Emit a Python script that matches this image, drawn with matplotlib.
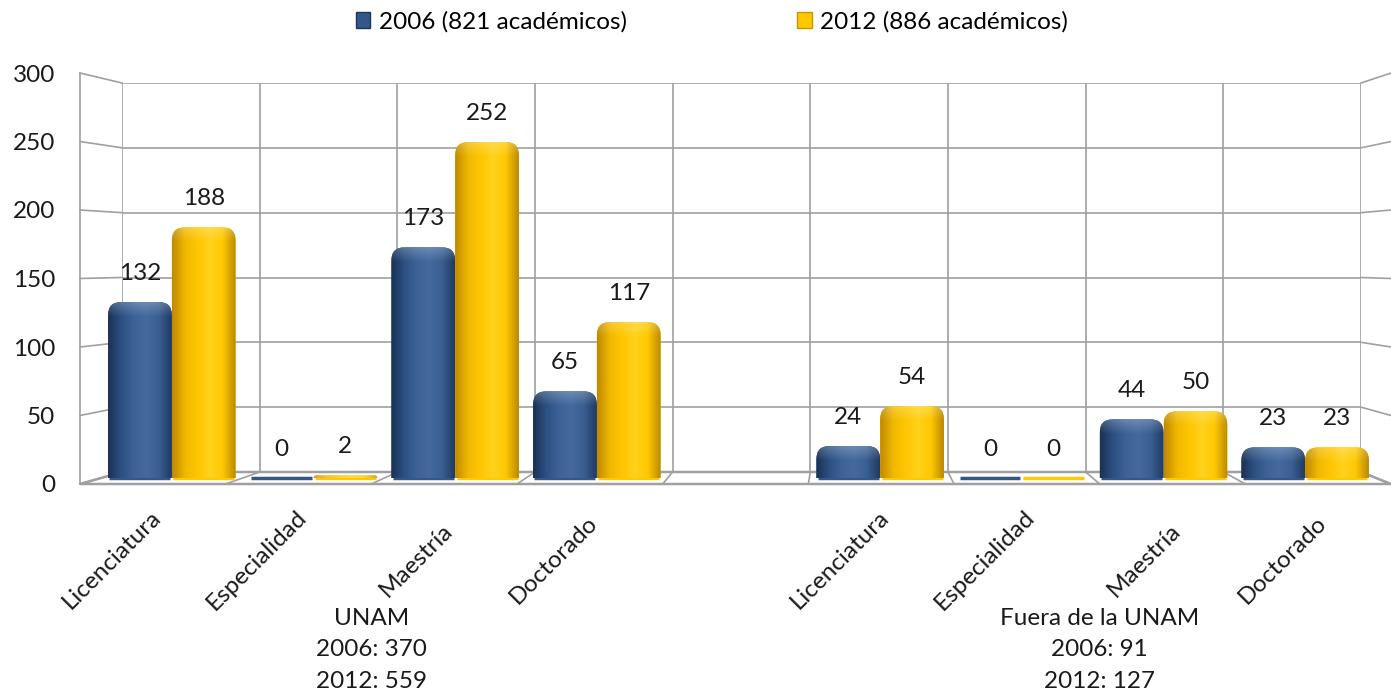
import matplotlib.pyplot as plt
import matplotlib.transforms as mtransforms
import numpy as np
from matplotlib.colors import LinearSegmentedColormap
from matplotlib.lines import Line2D
from matplotlib.patches import FancyBboxPatch, Patch, Polygon

categories = ["Licenciatura", "Especialidad", "Maestría", "Doctorado", "",
              "Licenciatura", "Especialidad", "Maestría", "Doctorado"]
values_2006 = [132, 0, 173, 65, np.nan, 24, 0, 44, 23]
values_2012 = [188, 2, 252, 117, np.nan, 54, 0, 50, 23]
series_labels = ["2006 (821 académicos)", "2012 (886 académicos)"]
group_labels = ["UNAM\n2006: 370\n2012: 559", "Fuera de la UNAM\n2006: 91\n2012: 127"]
group_centers = [1.5, 6.5]
y_ticks = [0, 50, 100, 150, 200, 250, 300]

FS = 17.5
plt.rcParams["font.family"] = ["Lato", "DejaVu Sans"]
plt.rcParams["font.size"] = FS

W, H = 1391, 697
fig = plt.figure(figsize=(W / 100, H / 100), dpi=100)


def box(x0, x1, ybot, ytop):
    # pixel rectangle -> figure fraction [left, bottom, width, height]
    return [x0 / W, 1 - ybot / H, (x1 - x0) / W, (ybot - ytop) / H]


# three planes of the fake 3D chart: back wall, bar plane, front edge
ax_back = fig.add_axes(box(122, 1361, 472, 83), zorder=0)
ax_front = fig.add_axes(box(80, 1391, 484, 73), zorder=1)
ax_mid = fig.add_axes(box(101, 1376, 478, 78), zorder=2)

for ax in (ax_back, ax_front, ax_mid):
    ax.set_xlim(-0.5, 8.5)
    ax.set_ylim(0, 300)
    ax.set_facecolor("none")
    ax.set_xticks([])
    ax.set_yticks([])
    for s in ax.spines.values():
        s.set_visible(False)

grid_c = "#a0a0a0"
grid_lw = 1.2
txt_c = "#1a1a1a"

# back wall grid
for v in y_ticks:
    ax_back.axhline(v, color=grid_c, lw=grid_lw)
for k in range(10):
    ax_back.axvline(k - 0.5, color=grid_c, lw=grid_lw)

# y axis labels on the front plane
ax_front.set_yticks(y_ticks)
ax_front.tick_params(axis="y", length=0, pad=18, labelsize=FS, labelcolor=txt_c)
ax_front.spines["left"].set_visible(True)
ax_front.spines["left"].set_color(grid_c)
ax_front.spines["left"].set_linewidth(grid_lw)

to_fig = fig.transFigure.inverted()


def fig_line(p0, p1, **kw):
    a, b = to_fig.transform([p0, p1])
    fig.add_artist(Line2D([a[0], b[0]], [a[1], b[1]], transform=fig.transFigure, **kw))


# side walls
for v in y_ticks:
    for xe in (-0.5, 8.5):
        fig_line(ax_front.transData.transform((xe, v)),
                 ax_back.transData.transform((xe, v)), color=grid_c, lw=grid_lw)

# floor
corners = [ax_back.transData.transform((-0.5, 0)), ax_back.transData.transform((8.5, 0)),
           ax_front.transData.transform((8.5, 0)), ax_front.transData.transform((-0.5, 0))]
fig.add_artist(Polygon(to_fig.transform(corners), closed=True, transform=fig.transFigure,
                       facecolor="white", edgecolor=grid_c, lw=1.8, zorder=0.5))
for k in range(1, 9):
    fig_line(ax_back.transData.transform((k - 0.5, 0)),
             ax_front.transData.transform((k - 0.5, 0)), color=grid_c, lw=grid_lw)

# bars
blue_cmap = LinearSegmentedColormap.from_list(
    "b", ["#1a3254", "#2c5082", "#3c6296", "#44699d", "#3a5f92", "#203b63"])
gold_cmap = LinearSegmentedColormap.from_list(
    "g", ["#c08a00", "#f0b800", "#ffc600", "#ffd21c", "#ffc800", "#bd8a00"])

bar_w = 0.45
px_x = 9 / 1275
px_y = 300 / 400
asp = px_y / px_x
r0 = 13 * px_x


def bar_image(cmap, height):
    # horizontal shading plus a light rim near the top
    rows = max(int(height / px_y), 2)
    cols = 64
    rgb = cmap(np.linspace(0, 1, cols))[:, :3]
    img = np.repeat(rgb[None, :, :], rows, axis=0)
    dist = np.arange(rows)[:, None, None]
    t = np.clip(1 - dist / 14, 0, 1) * 0.22
    return img * (1 - t) + t


xs = np.arange(len(categories))
series = [(values_2006, -bar_w / 2, blue_cmap, "#33578a"),
          (values_2012, bar_w / 2, gold_cmap, "#ffc800")]
for vals, off, cmap, base in series:
    for x, v in zip(xs, vals):
        if np.isnan(v):
            continue
        left = x + off - bar_w / 2
        ax_mid.hlines(0, left + 0.01, left + bar_w - 0.01, color=base, lw=2.5,
                      clip_on=False, zorder=2)
        if v > 0:
            r = min(r0, v / asp)
            p = FancyBboxPatch((left, -r * asp), bar_w, v + r * asp,
                               boxstyle=f"round,pad=0,rounding_size={r}",
                               mutation_aspect=asp, facecolor=base, edgecolor="none",
                               zorder=3)
            ax_mid.add_patch(p)
            im = ax_mid.imshow(bar_image(cmap, v), extent=(left, left + bar_w, 0, v),
                               aspect="auto", zorder=4, interpolation="bilinear",
                               origin="upper")
            im.set_clip_path(p)
        ax_mid.annotate(f"{int(v)}", (x + off, v), xytext=(0, 29),
                        textcoords="offset pixels", ha="center", va="center",
                        fontsize=FS, color=txt_c, zorder=5)

ax_mid.set_xlim(-0.5, 8.5)
ax_mid.set_ylim(0, 300)

# category labels
lab_tr = mtransforms.blended_transform_factory(
    ax_front.transData + mtransforms.ScaledTranslation(12 / 100, 0, fig.dpi_scale_trans),
    fig.transFigure)
for x, cat in zip(xs, categories):
    if cat:
        ax_front.text(x, 1 - 560 / H, cat, rotation=45, ha="right", va="center",
                      transform=lab_tr, fontsize=FS, color=txt_c)

grp_tr = mtransforms.blended_transform_factory(ax_front.transData, fig.transFigure)
for gx, gl in zip(group_centers, group_labels):
    ax_front.text(gx, 1 - 650 / H, gl, ha="center", va="center", multialignment="center",
                  linespacing=1.62, transform=grp_tr, fontsize=FS, color=txt_c)

handles = [Patch(facecolor="#33578a", edgecolor="#1c3559"),
           Patch(facecolor="#ffc800", edgecolor="#c99400")]
fig.legend(handles, series_labels, loc="center", bbox_to_anchor=(712 / W, 1 - 22 / H),
           ncol=2, frameon=False, handlelength=0.6, handleheight=0.6,
           handletextpad=0.35, columnspacing=7, fontsize=FS)

fig.savefig("out.png", dpi=100)
